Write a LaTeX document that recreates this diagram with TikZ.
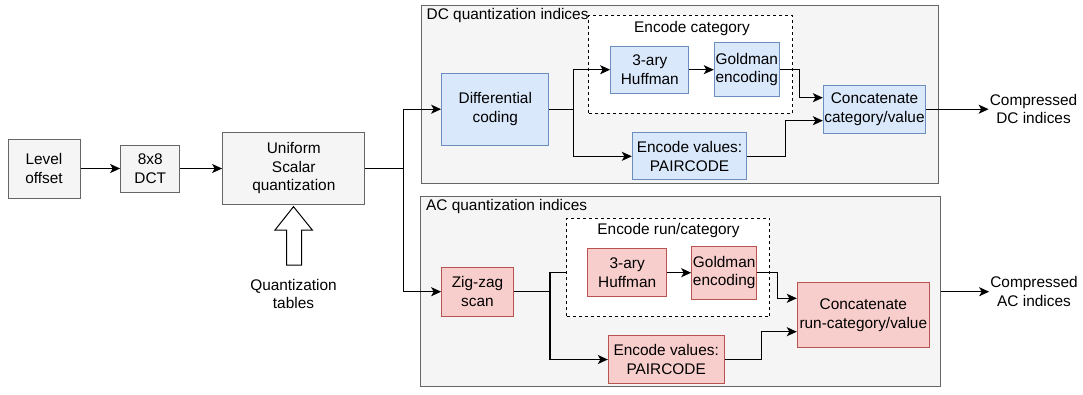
\documentclass[tikz,border=0pt]{standalone}
\usepackage{fontspec}
\setmainfont{Liberation Sans}
\usetikzlibrary{arrows.meta,calc}
\definecolor{grayfill}{HTML}{F5F5F5}
\definecolor{graydraw}{HTML}{666666}
\definecolor{bluefill}{HTML}{DAE8FC}
\definecolor{bluedraw}{HTML}{6C8EBF}
\definecolor{redfill}{HTML}{F8CECC}
\definecolor{reddraw}{HTML}{B85450}
\tikzset{
  txt/.style={font=\fontsize{15.4}{18.5}\selectfont, align=center, inner sep=0pt},
  graybox/.style={txt, draw=graydraw, fill=grayfill, line width=1pt},
  bluebox/.style={txt, draw=bluedraw, fill=bluefill, line width=1pt},
  redbox/.style={txt, draw=reddraw, fill=redfill, line width=1pt},
  groupbox/.style={draw=graydraw, fill=grayfill, line width=1pt, inner sep=0pt},
  dashbox/.style={draw=black, fill=white, dash pattern=on 3pt off 3pt, line width=1pt, inner sep=0pt},
  sz/.style 2 args={minimum width=#1pt, minimum height=#2pt},
  conn/.style={line width=1.3pt, draw=black},
  arr/.style={conn, -{Stealth[length=10pt,width=9pt,inset=2.5pt]}},
}
\begin{document}
\begin{tikzpicture}[x=1pt,y=-1pt]
\useasboundingbox (0,0) rectangle (1083,394);

% containers
\node[groupbox, sz={517.3}{178.3}] (dcg) at (680.3,94.8) {};
\node[groupbox, sz={520}{190}] (acg) at (680,291.7) {};
\node[txt, anchor=west] (dcl) at (426.5,16) {DC quantization indices};
\node[txt, anchor=west] (acl) at (426,207) {AC quantization indices};
\node[dashbox, sz={203.7}{98}] (dcd) at (690.8,64) {};
\node[dashbox, sz={203.3}{98.4}] (acd) at (668.3,267.5) {};
\node[txt] (dcdl) at (692,28.5) {Encode category};
\node[txt] (acdl) at (668.5,230.5) {Encode run/category};

% left chain
\node[graybox, sz={72}{59}] (lvl) at (44,168.5) {Level\\offset};
\node[graybox, sz={59.3}{47}] (dct) at (150.3,168.5) {8x8\\DCT};
\node[graybox, sz={142.3}{71.3}] (qnt) at (293.8,168.5) {Uniform\\Scalar\\quantization};
\draw[line width=1pt, fill=white] (286.7,265) -- (286.7,230) -- (275,230) -- (293.5,206.7)
  -- (312.3,230) -- (301.7,230) -- (301.7,265) -- cycle;
\node[txt] (qtab) at (293.5,294) {Quantization\\tables};

% DC nodes
\node[bluebox, sz={107.3}{71.7}] (dif) at (495.3,109.2) {Differential\\coding};
\node[bluebox, sz={78.3}{47.3}] (hdc) at (649.8,69.7) {3-ary\\Huffman};
\node[bluebox, sz={65}{54}] (gdc) at (746.8,69.7) {Goldman\\encoding};
\node[bluebox, sz={114.3}{47.3}] (pdc) at (689.5,156.3) {Encode values:\\PAIRCODE};
\node[bluebox, sz={102.3}{48.3}] (cdc) at (874.5,109.2) {Concatenate\\category/value};
\node[txt, inner sep=1pt] (odc) at (1033.5,109.2) {Compressed\\DC indices};

% AC nodes
\node[redbox, sz={71.7}{48.7}] (zig) at (477.5,291.7) {Zig-zag\\scan};
\node[redbox, sz={79}{47.7}] (hac) at (627.2,272.7) {3-ary\\Huffman};
\node[redbox, sz={65}{53.3}] (gac) at (724.2,272.7) {Goldman\\encoding};
\node[redbox, sz={115.7}{47.7}] (pac) at (666.2,359.5) {Encode values:\\PAIRCODE};
\node[redbox, sz={132}{65}] (cac) at (863.3,315.2) {Concatenate\\run-category/value};
\node[txt, inner sep=1pt] (oac) at (1034,291.7) {Compressed\\AC indices};

% connectors: left chain
\coordinate (split) at (403.3,168.5);
\draw[arr] (lvl) -- (dct);
\draw[arr] (dct) -- (qnt);
\draw[conn] (qnt.east) -- (split);
\draw[arr] (split) |- (dif.west);
\draw[arr] (split) |- (zig.west);

% DC connectors
\coordinate (dcb) at (573.3,109.2);
\draw[conn] (dif.east) -- (dcb);
\draw[arr] (dcb) |- (hdc.west);
\draw[arr] (dcb) |- (pdc.west);
\draw[arr] (hdc) -- (gdc);
\draw[arr] (gdc.east) -- ++(19.7,0) |- ([yshift=11.5pt]cdc.west);
\draw[arr] (pdc.east) -- ++(38.6,0) |- ([yshift=-11.5pt]cdc.west);
\draw[arr] (cdc.east) -- (odc.west);

% AC connectors
\coordinate (acb) at (550,291.7);
\draw[conn] (zig.east) -- (acb);
\draw[conn] (acb) |- (acd.west |- hac);
\draw[arr] (acb) |- (pac.west);
\draw[arr] (hac) -- (gac);
\draw[arr] (gac.east) -- ++(20,0) |- ([yshift=16.9pt]cac.west);
\draw[arr] (pac.east) -- ++(36.7,0) |- ([yshift=-16.5pt]cac.west);
\draw[arr] (acg.east) -- (oac.west);
\end{tikzpicture}
\end{document}
